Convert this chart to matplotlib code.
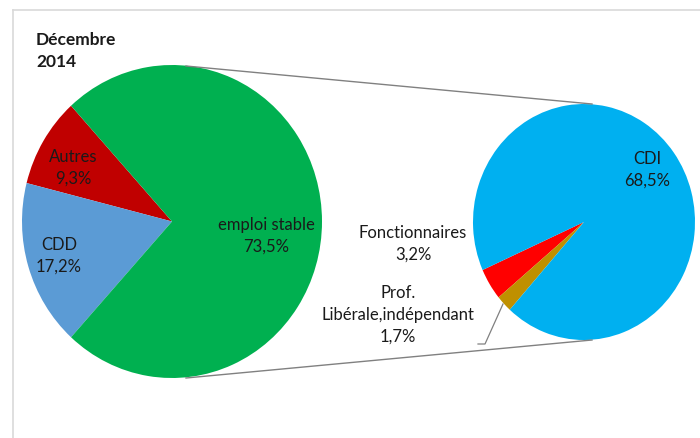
import matplotlib
matplotlib.use('Agg')
import matplotlib.pyplot as plt

# main pie
main_labels = ['Autres', 'CDD', 'emploi stable']
main_values = [9.3, 17.2, 73.5]
main_colors = ['#C00000', '#5B9BD5', '#00B050']

# detail of "emploi stable"
sub_labels = ['Fonctionnaires', 'Prof.\nLibérale,indépendant', 'CDI']
sub_values = [3.2, 1.7, 68.5]
sub_colors = ['#FF0000', '#BF9000', '#00B0F0']

title = 'Décembre\n2014'

plt.rcParams['font.family'] = ['Lato', 'DejaVu Sans']

W, H = 700, 439
fig = plt.figure(figsize=(W / 100, H / 100), dpi=100)


def pix_axes(x0, y0, x1, y1):
    ax = fig.add_axes([x0 / W, (H - y1) / H, (x1 - x0) / W, (y1 - y0) / H])
    return ax


def fmt(v):
    return ('%.1f%%' % v).replace('.', ',')


# left pie
ax1 = pix_axes(22, 66, 322, 379)
start = 180 - (main_values[0] + main_values[1]) / 2 * 3.6
ax1.pie(main_values, colors=main_colors, startangle=start, radius=1,
        wedgeprops=dict(linewidth=0))
ax1.set_aspect('auto')
ax1.set_xlim(-1, 1)
ax1.set_ylim(-1, 1)
ax1.axis('off')

# right pie
ax2 = pix_axes(473, 105, 695, 341)
ax2.pie(sub_values, colors=sub_colors, startangle=204, radius=1,
        wedgeprops=dict(linewidth=0))
ax2.set_aspect('auto')
ax2.set_xlim(-1, 1)
ax2.set_ylim(-1, 1)
ax2.axis('off')

# overlay axes in pixel coordinates for frame, text and connectors
bg = fig.add_axes([0, 0, 1, 1])
bg.set_xlim(0, W)
bg.set_ylim(H, 0)
bg.axis('off')
bg.patch.set_alpha(0)

# chart area border
bg.plot([13, W], [11, 11], color='#d9d9d9', lw=1.2)
bg.plot([13, 13], [11, H], color='#d9d9d9', lw=1.2)

bg.text(36, 51, title, fontsize=12.5, fontweight='bold', color='#1a1a1a',
        ha='left', va='center', linespacing=1.4)

# connector lines
bg.plot([186, 592], [67, 105], color='#808080', lw=1)
bg.plot([186, 592], [379, 341], color='#808080', lw=1)

# data labels
lab_kw = dict(fontsize=12, color='#1a1a1a', ha='center', va='center',
              linespacing=1.45)
bg.text(73, 168, main_labels[0] + '\n' + fmt(main_values[0]), **lab_kw)
bg.text(59, 256, main_labels[1] + '\n' + fmt(main_values[1]), **lab_kw)
bg.text(266, 236, main_labels[2] + '\n' + fmt(main_values[2]), **lab_kw)
bg.text(647, 170, sub_labels[2] + '\n' + fmt(sub_values[2]), **lab_kw)
bg.text(413, 244, sub_labels[0] + '\n' + fmt(sub_values[0]), **lab_kw)
bg.text(398, 315, sub_labels[1] + '\n' + fmt(sub_values[1]), **lab_kw)

# leader line for the small slice
bg.plot([478, 485, 503], [345, 345, 305], color='#808080', lw=0.9)

fig.savefig('out.png', dpi=100)
